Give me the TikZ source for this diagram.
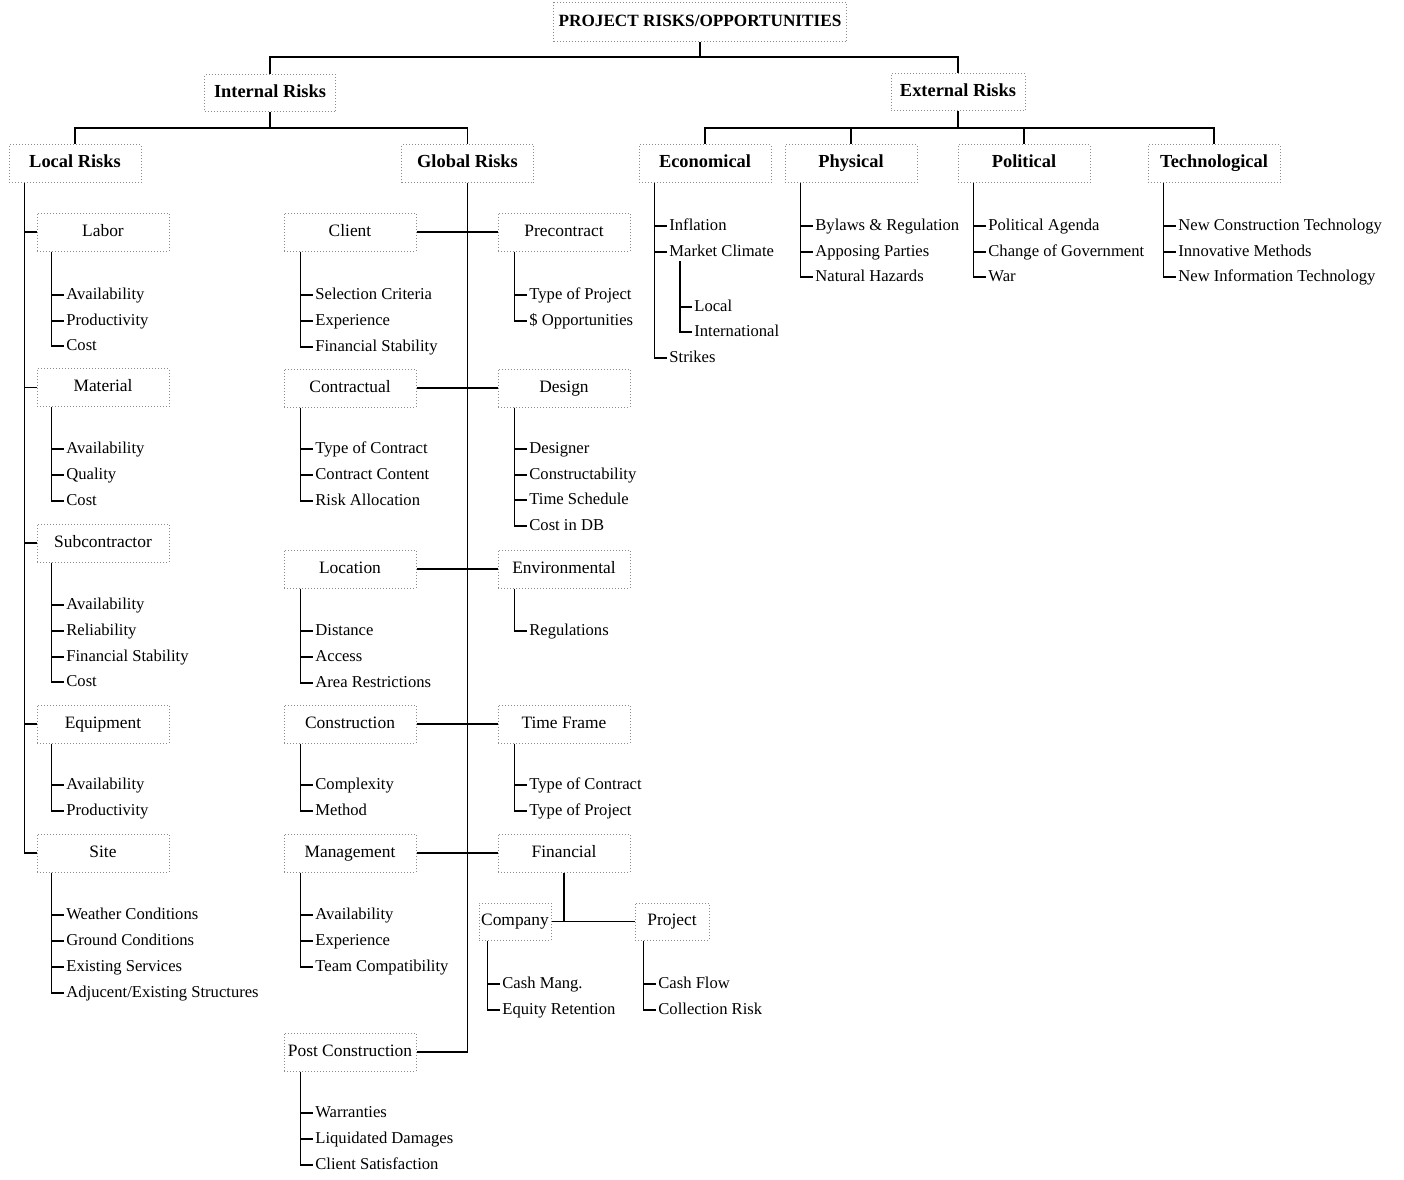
\documentclass[tikz,border=0pt]{standalone}
\usepackage{fontspec}
\setmainfont{Liberation Serif}
\usepackage{xcolor}
\usepackage{tikz}
\usetikzlibrary{positioning}
\definecolor{boxline}{HTML}{8C8C8C}

\begin{document}
\begin{tikzpicture}[
  x=0.5pt, y=-0.5pt,
  box/.style = {
    rectangle, draw=boxline, densely dotted, line width=0.5pt,
    minimum width=66pt, minimum height=19pt, inner sep=0pt,
    text height=6.3pt, text depth=1.9pt,
    font=\fontsize{8.7}{10}\selectfont
  },
  head/.style = {box, font=\fontsize{9.2}{11}\selectfont\bfseries},
  item/.style = {
    anchor=west, inner xsep=1pt, inner ysep=0.5pt,
    text height=6pt, text depth=1.8pt,
    font=\fontsize{8.3}{10}\selectfont
  },
  conn/.style = {draw=black, line width=0.9pt}
]
  \useasboundingbox (0,0) rectangle (1404,1179);

  % top levels
  \node[box, minimum width=146.5pt, minimum height=19.5pt,
        font=\fontsize{8.6}{10}\selectfont\bfseries] (proj) at (700,22) {PROJECT RISKS/OPPORTUNITIES};
  \node[head, minimum width=65.5pt, minimum height=18.5pt] (int) at (270,93) {Internal Risks};
  \node[head, minimum width=67pt, minimum height=18.5pt]   (ext) at (958,92) {External Risks};

  \node[head] (local)  at (75,163.5)   {Local Risks};
  \node[head] (global) at (467.5,163.5) {Global Risks};
  \node[head] (eco)    at (705,163.5)  {Economical};
  \node[head] (phy)    at (851,163.5)  {Physical};
  \node[head] (pol)    at (1024,163.5) {Political};
  \node[head] (tec)    at (1214,163.5) {Technological};

  \coordinate (tbus) at (700,57);
  \coordinate (ibus) at (270,128);
  \coordinate (ebus) at (958,128);

  \draw[conn] (proj.south) -- (tbus);
  \draw[conn] (int.north) |- (tbus) -| (ext.north);
  \draw[conn] (int.south) -- (ibus);
  \draw[conn] (local.north) |- (ibus) -| (global.north);
  \draw[conn] (ext.south) -- (ebus);
  \draw[conn] (eco.north) |- (ebus) -| (tec.north);
  \draw[conn] (phy.north) -- (phy.north |- ebus);
  \draw[conn] (pol.north) -- (pol.north |- ebus);

  % local risks
  \node[box] (labor) at (103,232)   {Labor};
  \node[box] (mater) at (103,387.5) {Material};
  \node[box] (subco) at (103,543)   {Subcontractor};
  \node[box] (equip) at (103,724)   {Equipment};
  \node[box] (site)  at (103,853)   {Site};

  \draw[conn] ([xshift=8pt]local.south west) |- (labor.west);
  \draw[conn] ([xshift=8pt]local.south west) |- (mater.west);
  \draw[conn] ([xshift=8pt]local.south west) |- (subco.west);
  \draw[conn] ([xshift=8pt]local.south west) |- (equip.west);
  \draw[conn] ([xshift=8pt]local.south west) |- (site.west);

  \node[item] (lab1) at (64,295) {Availability};
  \node[item] (lab2) at (64,321) {Productivity};
  \node[item] (lab3) at (64,346) {Cost};
  \node[item] (mat1) at (64,449) {Availability};
  \node[item] (mat2) at (64,475) {Quality};
  \node[item] (mat3) at (64,501) {Cost};
  \node[item] (sub1) at (64,605) {Availability};
  \node[item] (sub2) at (64,631) {Reliability};
  \node[item] (sub3) at (64,657) {Financial Stability};
  \node[item] (sub4) at (64,682) {Cost};
  \node[item] (equ1) at (64,785) {Availability};
  \node[item] (equ2) at (64,811) {Productivity};
  \node[item] (sit1) at (64,915) {Weather Conditions};
  \node[item] (sit2) at (64,941) {Ground Conditions};
  \node[item] (sit3) at (64,967) {Existing Services};
  \node[item] (sit4) at (64,993) {Adjucent/Existing Structures};

  \draw[conn] ([xshift=7.5pt]labor.south west) |- (lab1.west);
  \draw[conn] ([xshift=7.5pt]labor.south west) |- (lab2.west);
  \draw[conn] ([xshift=7.5pt]labor.south west) |- (lab3.west);
  \draw[conn] ([xshift=7.5pt]mater.south west) |- (mat1.west);
  \draw[conn] ([xshift=7.5pt]mater.south west) |- (mat2.west);
  \draw[conn] ([xshift=7.5pt]mater.south west) |- (mat3.west);
  \draw[conn] ([xshift=7.5pt]subco.south west) |- (sub1.west);
  \draw[conn] ([xshift=7.5pt]subco.south west) |- (sub2.west);
  \draw[conn] ([xshift=7.5pt]subco.south west) |- (sub3.west);
  \draw[conn] ([xshift=7.5pt]subco.south west) |- (sub4.west);
  \draw[conn] ([xshift=7.5pt]equip.south west) |- (equ1.west);
  \draw[conn] ([xshift=7.5pt]equip.south west) |- (equ2.west);
  \draw[conn] ([xshift=7.5pt]site.south west)  |- (sit1.west);
  \draw[conn] ([xshift=7.5pt]site.south west)  |- (sit2.west);
  \draw[conn] ([xshift=7.5pt]site.south west)  |- (sit3.west);
  \draw[conn] ([xshift=7.5pt]site.south west)  |- (sit4.west);

  % global risks
  \node[box] (client) at (350,232)  {Client};
  \node[box] (contr)  at (350,388)  {Contractual};
  \node[box] (locat)  at (350,569)  {Location};
  \node[box] (constr) at (350,724)  {Construction};
  \node[box] (mgmt)   at (350,853)  {Management};
  \node[box] (post)   at (350,1052) {Post Construction};

  \node[box] (precon) at (564,232) {Precontract};
  \node[box] (design) at (564,388) {Design};
  \node[box] (envir)  at (564,569) {Environmental};
  \node[box] (tframe) at (564,724) {Time Frame};
  \node[box] (finan)  at (564,853) {Financial};
  \node[box, minimum width=36pt, minimum height=18.5pt] (comp) at (515,921.5) {Company};
  \node[box, minimum width=37pt, minimum height=18.5pt] (projc) at (672,921.5) {Project};

  \draw[conn] (global.south) |- (post.east);
  \draw[conn] (client.east) -- (precon.west);
  \draw[conn] (contr.east)  -- (design.west);
  \draw[conn] (locat.east)  -- (envir.west);
  \draw[conn] (constr.east) -- (tframe.west);
  \draw[conn] (mgmt.east)   -- (finan.west);
  \draw[conn] (comp.east)   -- (projc.west);
  \draw[conn] (finan.south) -- (finan.south |- comp.east);

  \node[item] (cli1) at (313,295)  {Selection Criteria};
  \node[item] (cli2) at (313,321)  {Experience};
  \node[item] (cli3) at (313,347)  {Financial Stability};
  \node[item] (con1) at (313,449)  {Type of Contract};
  \node[item] (con2) at (313,475)  {Contract Content};
  \node[item] (con3) at (313,501)  {Risk Allocation};
  \node[item] (lcn1) at (313,631)  {Distance};
  \node[item] (lcn2) at (313,657)  {Access};
  \node[item] (lcn3) at (313,683)  {Area Restrictions};
  \node[item] (cst1) at (313,785)  {Complexity};
  \node[item] (cst2) at (313,811)  {Method};
  \node[item] (mgt1) at (313,915)  {Availability};
  \node[item] (mgt2) at (313,941)  {Experience};
  \node[item] (mgt3) at (313,967)  {Team Compatibility};
  \node[item] (pst1) at (313,1113) {Warranties};
  \node[item] (pst2) at (313,1139) {Liquidated Damages};
  \node[item] (pst3) at (313,1165) {Client Satisfaction};

  \draw[conn] ([xshift=8.5pt]client.south west) |- (cli1.west);
  \draw[conn] ([xshift=8.5pt]client.south west) |- (cli2.west);
  \draw[conn] ([xshift=8.5pt]client.south west) |- (cli3.west);
  \draw[conn] ([xshift=8.5pt]contr.south west)  |- (con1.west);
  \draw[conn] ([xshift=8.5pt]contr.south west)  |- (con2.west);
  \draw[conn] ([xshift=8.5pt]contr.south west)  |- (con3.west);
  \draw[conn] ([xshift=8.5pt]locat.south west)  |- (lcn1.west);
  \draw[conn] ([xshift=8.5pt]locat.south west)  |- (lcn2.west);
  \draw[conn] ([xshift=8.5pt]locat.south west)  |- (lcn3.west);
  \draw[conn] ([xshift=8.5pt]constr.south west) |- (cst1.west);
  \draw[conn] ([xshift=8.5pt]constr.south west) |- (cst2.west);
  \draw[conn] ([xshift=8.5pt]mgmt.south west)   |- (mgt1.west);
  \draw[conn] ([xshift=8.5pt]mgmt.south west)   |- (mgt2.west);
  \draw[conn] ([xshift=8.5pt]mgmt.south west)   |- (mgt3.west);
  \draw[conn] ([xshift=8.5pt]post.south west)   |- (pst1.west);
  \draw[conn] ([xshift=8.5pt]post.south west)   |- (pst2.west);
  \draw[conn] ([xshift=8.5pt]post.south west)   |- (pst3.west);

  \node[item] (pre1) at (527,295)  {Type of Project};
  \node[item] (pre2) at (527,321)  {\$ Opportunities};
  \node[item] (des1) at (527,449)  {Designer};
  \node[item] (des2) at (527,475)  {Constructability};
  \node[item] (des3) at (527,500)  {Time Schedule};
  \node[item] (des4) at (527,526)  {Cost in DB};
  \node[item] (env1) at (527,631)  {Regulations};
  \node[item] (tfr1) at (527,785)  {Type of Contract};
  \node[item] (tfr2) at (527,811)  {Type of Project};
  \node[item] (cmp1) at (500,984)  {Cash Mang.};
  \node[item] (cmp2) at (500,1010) {Equity Retention};
  \node[item] (prj1) at (656,984)  {Cash Flow};
  \node[item] (prj2) at (656,1010) {Collection Risk};

  \draw[conn] ([xshift=8.5pt]precon.south west) |- (pre1.west);
  \draw[conn] ([xshift=8.5pt]precon.south west) |- (pre2.west);
  \draw[conn] ([xshift=8.5pt]design.south west) |- (des1.west);
  \draw[conn] ([xshift=8.5pt]design.south west) |- (des2.west);
  \draw[conn] ([xshift=8.5pt]design.south west) |- (des3.west);
  \draw[conn] ([xshift=8.5pt]design.south west) |- (des4.west);
  \draw[conn] ([xshift=8.5pt]envir.south west)  |- (env1.west);
  \draw[conn] ([xshift=8.5pt]tframe.south west) |- (tfr1.west);
  \draw[conn] ([xshift=8.5pt]tframe.south west) |- (tfr2.west);
  \draw[conn] ([xshift=4.5pt]comp.south west)   |- (cmp1.west);
  \draw[conn] ([xshift=4.5pt]comp.south west)   |- (cmp2.west);
  \draw[conn] ([xshift=4.5pt]projc.south west)  |- (prj1.west);
  \draw[conn] ([xshift=4.5pt]projc.south west)  |- (prj2.west);

  % external risks
  \node[item] (eco1)  at (667,226) {Inflation};
  \node[item] (eco2)  at (667,252) {Market Climate};
  \node[item] (eco21) at (692,307) {Local};
  \node[item] (eco22) at (692,332) {International};
  \node[item] (eco3)  at (667,358) {Strikes};
  \node[item] (phy1) at (813,226) {Bylaws \& Regulation};
  \node[item] (phy2) at (813,252) {Apposing Parties};
  \node[item] (phy3) at (813,277) {Natural Hazards};
  \node[item] (pol1) at (986,226) {Political Agenda};
  \node[item] (pol2) at (986,252) {Change of Government};
  \node[item] (pol3) at (986,277) {War};
  \node[item] (tec1) at (1176,226) {New Construction Technology};
  \node[item] (tec2) at (1176,252) {Innovative Methods};
  \node[item] (tec3) at (1176,277) {New Information Technology};

  \draw[conn] ([xshift=8pt]eco.south west) |- (eco1.west);
  \draw[conn] ([xshift=8pt]eco.south west) |- (eco2.west);
  \draw[conn] ([xshift=8pt]eco.south west) |- (eco3.west);
  \draw[conn] ([xshift=6.5pt]eco2.south west) |- (eco21.west);
  \draw[conn] ([xshift=6.5pt]eco2.south west) |- (eco22.west);
  \draw[conn] ([xshift=8pt]phy.south west) |- (phy1.west);
  \draw[conn] ([xshift=8pt]phy.south west) |- (phy2.west);
  \draw[conn] ([xshift=8pt]phy.south west) |- (phy3.west);
  \draw[conn] ([xshift=8pt]pol.south west) |- (pol1.west);
  \draw[conn] ([xshift=8pt]pol.south west) |- (pol2.west);
  \draw[conn] ([xshift=8pt]pol.south west) |- (pol3.west);
  \draw[conn] ([xshift=8pt]tec.south west) |- (tec1.west);
  \draw[conn] ([xshift=8pt]tec.south west) |- (tec2.west);
  \draw[conn] ([xshift=8pt]tec.south west) |- (tec3.west);
\end{tikzpicture}
\end{document}
